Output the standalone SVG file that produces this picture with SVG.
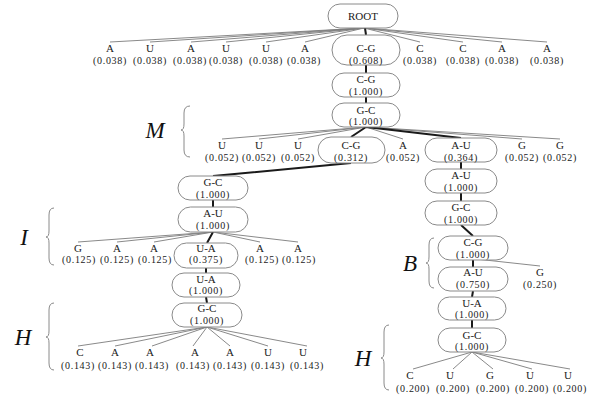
<svg xmlns="http://www.w3.org/2000/svg" width="590" height="397" viewBox="0 0 590 397">
<style>
  .pill{fill:#fff;stroke:#8a8a8a;stroke-width:1}
  .t{font-family:"Liberation Serif","Times New Roman","DejaVu Serif",serif;font-size:11px;fill:#1a1a1a;text-anchor:middle}
  .v{font-size:10px;letter-spacing:0.7px}
  .thin{stroke:#7c7c7c;stroke-width:0.9;fill:none}
  .thick{stroke:#1a1a1a;stroke-width:2;fill:none}
  .lbl{font-family:"Liberation Serif","Times New Roman",serif;font-style:italic;font-size:23px;fill:#111;text-anchor:middle}
  .brace{stroke:#8a8a8a;stroke-width:1;fill:none}
</style>
<rect width="590" height="397" fill="#fff"/>

<!-- connectors -->
<g id="connectors">
  <!-- root to first level -->
  <path class="thin" d="M364,28L110,42M364,28L150,42M364,28L191,42M364,28L226,42M364,28L266,42M364,28L305,42M364,28L420,42M364,28L463,42M364,28L502,42M364,28L547,42"/>
  <path class="thick" d="M365,28L366,35"/>
  <path class="thick" d="M366,65L366,73M366,97L366,103"/>
  <!-- multiloop branch -->
  <path class="thin" d="M366,127L222,139M366,127L259,139M366,127L298,139M366,127L403,139M366,127L522,139M366,127L560,139"/>
  <path class="thick" d="M366,127L351,137M366,127L461,138"/>
  <!-- left arm -->
  <path class="thick" d="M351,163L213,176M213,200L213,207"/>
  <path class="thin" d="M213,232L78,242M213,232L117,242M213,232L154,242M213,232L260,242M213,232L298,242"/>
  <path class="thick" d="M213,232L207,243M206,268L206,273M206,297L207,303"/>
  <path class="thin" d="M207,327L78,346M207,327L115,346M207,327L152,346M207,327L193,346M207,327L230,346M207,327L268,346M207,327L307,346"/>
  <!-- right arm -->
  <path class="thick" d="M461,162L461,169M461,193L461,201M461,225L473,236M473,260L473,267M473,291L472,297M472,320L472,328"/>
  <path class="thin" d="M476,259L540,266"/>
  <path class="thin" d="M472,352L413,369M472,352L453,369M472,352L493,369M472,352L532,369M472,352L570,369"/>
</g>

<!-- root -->
<g id="root">
  <rect class="pill" x="328" y="4" width="70" height="24" rx="12"/>
  <text class="t" x="363" y="20">ROOT</text>
</g>

<!-- first level leaves -->
<g id="l1-1"><text class="t" x="110" y="51.5">A</text><text class="t v" x="110" y="63.5">(0.038)</text></g>
<g id="l1-2"><text class="t" x="150" y="51.5">U</text><text class="t v" x="150" y="63.5">(0.038)</text></g>
<g id="l1-3"><text class="t" x="191" y="51.5">A</text><text class="t v" x="190" y="63.5">(0.038)</text></g>
<g id="l1-4"><text class="t" x="226" y="51.5">U</text><text class="t v" x="226" y="63.5">(0.038)</text></g>
<g id="l1-5"><text class="t" x="266" y="51.5">U</text><text class="t v" x="266" y="63.5">(0.038)</text></g>
<g id="l1-6"><text class="t" x="305" y="51.5">A</text><text class="t v" x="304" y="63.5">(0.038)</text></g>
<g id="cg0608">
  <rect class="pill" x="332" y="35" width="68" height="30" rx="15"/>
  <text class="t" x="366" y="51.5">C-G</text><text class="t v" x="366" y="63.5">(0.608)</text>
</g>
<g id="l1-7"><text class="t" x="420" y="51.5">C</text><text class="t v" x="420" y="63.5">(0.038)</text></g>
<g id="l1-8"><text class="t" x="463" y="51.5">C</text><text class="t v" x="463" y="63.5">(0.038)</text></g>
<g id="l1-9"><text class="t" x="502" y="51.5">A</text><text class="t v" x="502" y="63.5">(0.038)</text></g>
<g id="l1-10"><text class="t" x="547" y="51.5">A</text><text class="t v" x="547" y="63.5">(0.038)</text></g>

<!-- stem -->
<g id="cg1">
  <rect class="pill" x="332" y="73" width="68" height="24" rx="12"/>
  <text class="t" x="366" y="82.5">C-G</text><text class="t v" x="366" y="94.5">(1.000)</text>
</g>
<g id="gc1">
  <rect class="pill" x="332" y="103" width="68" height="24" rx="12"/>
  <text class="t" x="366" y="113.5">G-C</text><text class="t v" x="366" y="125">(1.000)</text>
</g>

<!-- multiloop children -->
<g id="m-1"><text class="t" x="222" y="148.5">U</text><text class="t v" x="222" y="160.5">(0.052)</text></g>
<g id="m-2"><text class="t" x="259" y="148.5">U</text><text class="t v" x="259" y="160.5">(0.052)</text></g>
<g id="m-3"><text class="t" x="298" y="148.5">U</text><text class="t v" x="298" y="160.5">(0.052)</text></g>
<g id="cg0312">
  <rect class="pill" x="318" y="137" width="67" height="26" rx="13"/>
  <text class="t" x="351" y="148.5">C-G</text><text class="t v" x="351" y="160.5">(0.312)</text>
</g>
<g id="m-4"><text class="t" x="403" y="148.5">A</text><text class="t v" x="403" y="160.5">(0.052)</text></g>
<g id="au0364">
  <rect class="pill" x="425" y="138" width="72" height="24" rx="12"/>
  <text class="t" x="461" y="148.5">A-U</text><text class="t v" x="461" y="160.5">(0.364)</text>
</g>
<g id="m-5"><text class="t" x="522" y="148.5">G</text><text class="t v" x="522" y="160.5">(0.052)</text></g>
<g id="m-6"><text class="t" x="560" y="148.5">G</text><text class="t v" x="560" y="160.5">(0.052)</text></g>

<!-- left arm -->
<g id="gc2">
  <rect class="pill" x="178" y="176" width="70" height="24" rx="12"/>
  <text class="t" x="213" y="185.5">G-C</text><text class="t v" x="213" y="197.5">(1.000)</text>
</g>
<g id="au1">
  <rect class="pill" x="178" y="207" width="70" height="25" rx="12.5"/>
  <text class="t" x="213" y="216.5">A-U</text><text class="t v" x="213" y="228.5">(1.000)</text>
</g>
<g id="i-1"><text class="t" x="78" y="251.5">G</text><text class="t v" x="79" y="263">(0.125)</text></g>
<g id="i-2"><text class="t" x="117" y="251.5">A</text><text class="t v" x="117" y="263">(0.125)</text></g>
<g id="i-3"><text class="t" x="154" y="251.5">A</text><text class="t v" x="155" y="263">(0.125)</text></g>
<g id="ua0375">
  <rect class="pill" x="174" y="243" width="64" height="25" rx="12.5"/>
  <text class="t" x="206" y="251.5">U-A</text><text class="t v" x="206" y="263">(0.375)</text>
</g>
<g id="i-4"><text class="t" x="260" y="251.5">A</text><text class="t v" x="262" y="263">(0.125)</text></g>
<g id="i-5"><text class="t" x="298" y="251.5">A</text><text class="t v" x="299" y="263">(0.125)</text></g>
<g id="ua1">
  <rect class="pill" x="172" y="273" width="68" height="24" rx="12"/>
  <text class="t" x="206" y="283">U-A</text><text class="t v" x="206" y="294">(1.000)</text>
</g>
<g id="gc3">
  <rect class="pill" x="172" y="303" width="70" height="24" rx="12"/>
  <text class="t" x="207" y="312">G-C</text><text class="t v" x="207" y="323.5">(1.000)</text>
</g>
<g id="h-1"><text class="t" x="80" y="355.5">C</text><text class="t v" x="78" y="368.5">(0.143)</text></g>
<g id="h-2"><text class="t" x="115" y="355.5">A</text><text class="t v" x="115" y="368.5">(0.143)</text></g>
<g id="h-3"><text class="t" x="150" y="355.5">A</text><text class="t v" x="152" y="368.5">(0.143)</text></g>
<g id="h-4"><text class="t" x="195" y="355.5">A</text><text class="t v" x="193" y="368.5">(0.143)</text></g>
<g id="h-5"><text class="t" x="230" y="355.5">A</text><text class="t v" x="230" y="368.5">(0.143)</text></g>
<g id="h-6"><text class="t" x="268" y="355.5">U</text><text class="t v" x="268" y="368.5">(0.143)</text></g>
<g id="h-7"><text class="t" x="303" y="355.5">U</text><text class="t v" x="307" y="368.5">(0.143)</text></g>

<!-- right arm -->
<g id="au2">
  <rect class="pill" x="425" y="169" width="72" height="24" rx="12"/>
  <text class="t" x="461" y="178.5">A-U</text><text class="t v" x="461" y="190.5">(1.000)</text>
</g>
<g id="gc4">
  <rect class="pill" x="425" y="201" width="72" height="24" rx="12"/>
  <text class="t" x="461" y="210.5">G-C</text><text class="t v" x="461" y="222.5">(1.000)</text>
</g>
<g id="cg2">
  <rect class="pill" x="438" y="236" width="70" height="24" rx="12"/>
  <text class="t" x="473" y="245.5">C-G</text><text class="t v" x="473" y="257.5">(1.000)</text>
</g>
<g id="au0750">
  <rect class="pill" x="438" y="267" width="70" height="24" rx="12"/>
  <text class="t" x="473" y="275.5">A-U</text><text class="t v" x="473" y="288">(0.750)</text>
</g>
<g id="b-1"><text class="t" x="540" y="275.5">G</text><text class="t v" x="540" y="288">(0.250)</text></g>
<g id="ua2">
  <rect class="pill" x="438" y="297" width="68" height="23" rx="11.5"/>
  <text class="t" x="472" y="306.5">U-A</text><text class="t v" x="472" y="318">(1.000)</text>
</g>
<g id="gc5">
  <rect class="pill" x="438" y="328" width="68" height="24" rx="12"/>
  <text class="t" x="472" y="338.5">G-C</text><text class="t v" x="472" y="350">(1.000)</text>
</g>
<g id="hr-1"><text class="t" x="410" y="378.5">C</text><text class="t v" x="413" y="391.5">(0.200)</text></g>
<g id="hr-2"><text class="t" x="450" y="378.5">U</text><text class="t v" x="453" y="391.5">(0.200)</text></g>
<g id="hr-3"><text class="t" x="490" y="378.5">G</text><text class="t v" x="493" y="391.5">(0.200)</text></g>
<g id="hr-4"><text class="t" x="530" y="378.5">U</text><text class="t v" x="532" y="391.5">(0.200)</text></g>
<g id="hr-5"><text class="t" x="568" y="378.5">U</text><text class="t v" x="570" y="391.5">(0.200)</text></g>

<!-- structure labels with braces -->
<g id="label-M">
  <text class="lbl" x="155" y="138">M</text>
  <path class="brace" d="M190,106Q184,106 184,113L184,124Q184,130 181,130Q184,130 184,136L184,150Q184,157 190,157"/>
</g>
<g id="label-I">
  <text class="lbl" x="24" y="245">I</text>
  <path class="brace" d="M54,208Q49,208 49,215L49,231Q49,237 46,237Q49,237 49,243L49,258Q49,265 54,265"/>
</g>
<g id="label-B">
  <text class="lbl" x="410" y="271">B</text>
  <path class="brace" d="M434,238Q429,238 429,245L429,257Q429,263 426,263Q429,263 429,269L429,281Q429,288 434,288"/>
</g>
<g id="label-H1">
  <text class="lbl" x="23" y="345">H</text>
  <path class="brace" d="M54,303Q49,303 49,310L49,331Q49,337 46,337Q49,337 49,343L49,363Q49,370 54,370"/>
</g>
<g id="label-H2">
  <text class="lbl" x="363" y="366">H</text>
  <path class="brace" d="M389,325Q384,325 384,332L384,352Q384,358 381,358Q384,358 384,364L384,383Q384,390 389,390"/>
</g>
</svg>
